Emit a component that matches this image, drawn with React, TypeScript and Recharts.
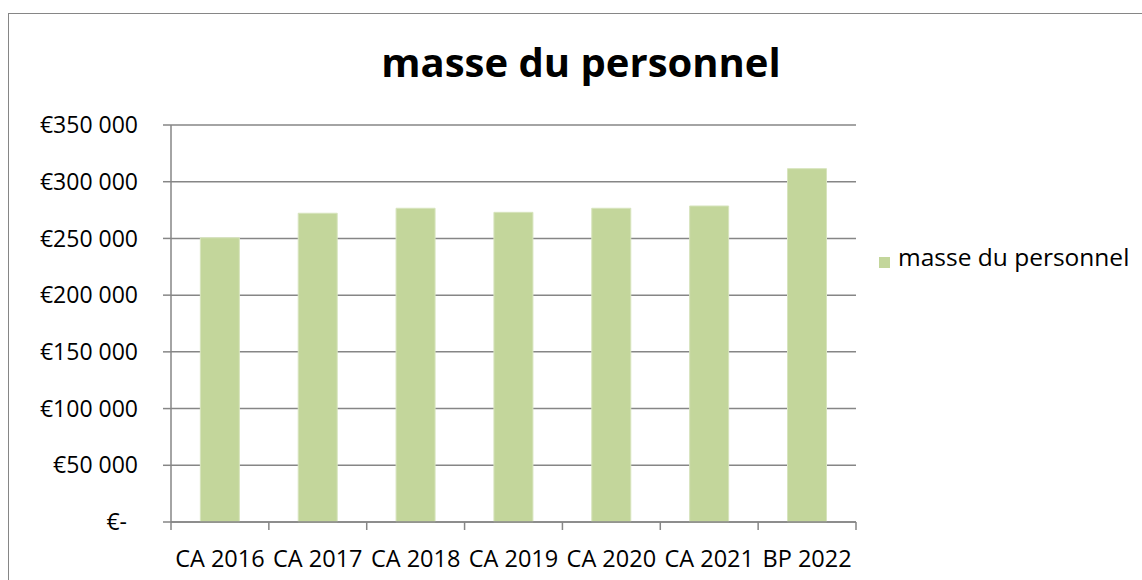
import React from "react";
import { BarChart, Bar, XAxis, YAxis, CartesianGrid, Legend } from "recharts";

const categories = ["CA 2016", "CA 2017", "CA 2018", "CA 2019", "CA 2020", "CA 2021", "BP 2022"];
const masseValues = [250600, 272200, 276600, 273000, 276600, 278600, 311500];
const yTicks = [0, 50000, 100000, 150000, 200000, 250000, 300000, 350000];
const seriesName = "masse du personnel";
const chartTitle = "masse du personnel";

const data = categories.map((c, i) => ({ name: c, value: masseValues[i] }));

const FONT = "'Open Sans', Calibri, sans-serif";
const GRID = "#868686";

const fmt = (v: number) =>
  v === 0 ? "€-" : "€" + String(v).replace(/\B(?=(\d{3})+(?!\d))/g, " ");

const YTick = (props: any) => {
  const { x, y, payload } = props;
  const isZero = payload.value === 0;
  return (
    <text
      x={x - (isZero ? 11 : 0)}
      y={y}
      dy="0.355em"
      textAnchor="end"
      fontSize={23}
      fontFamily={FONT}
      fill="#000"
    >
      {fmt(payload.value)}
    </text>
  );
};

const XTick = (props: any) => {
  const { x, y, payload, index } = props;
  const off = payload && payload.offset ? payload.offset : 49;
  const axisY = y - 28;
  const isLast = index === categories.length - 1;
  return (
    <g>
      <line x1={x - off} x2={x - off} y1={axisY} y2={axisY + 8} stroke={GRID} strokeWidth={1.5} />
      {isLast && (
        <line x1={x + off} x2={x + off} y1={axisY} y2={axisY + 8} stroke={GRID} strokeWidth={1.5} />
      )}
      <text x={x} y={y} dy="0.71em" textAnchor="middle" fontSize={23.5} fontFamily={FONT} fill="#000">
        {payload.value}
      </text>
    </g>
  );
};

const legendFormatter = (value: string) => (
  <span style={{ color: "#000", fontSize: 24.5, fontFamily: FONT, marginLeft: 4 }}>{value}</span>
);

export default function App() {
  return (
    <div
      style={{
        position: "fixed",
        left: 0,
        top: 0,
        width: 1142,
        height: 580,
        overflow: "hidden",
        background: "#fff",
      }}
    >
      <div
        style={{
          position: "absolute",
          left: 8,
          top: 13,
          width: 1160,
          height: 600,
          border: `1.5px solid ${GRID}`,
          boxSizing: "border-box",
        }}
      />
      <svg
        width={1142}
        height={100}
        style={{ position: "absolute", left: 0, top: 0 }}
      >
        <text
          x={581}
          y={77}
          textAnchor="middle"
          fontSize={40}
          fontWeight="bold"
          fontFamily={FONT}
          fill="#000"
        >
          {chartTitle}
        </text>
      </svg>
      <div style={{ position: "absolute", left: 0, top: 0 }}>
        <BarChart
          width={1142}
          height={580}
          data={data}
          margin={{ top: 125, right: 286, bottom: 18, left: 71 }}
          barCategoryGap="30%"
        >
          <CartesianGrid vertical={false} stroke={GRID} strokeWidth={1.5} />
          <XAxis
            dataKey="name"
            height={40}
            axisLine={{ stroke: GRID, strokeWidth: 1.5 }}
            tickLine={false}
            tickSize={8}
            tickMargin={20}
            tick={<XTick />}
            interval={0}
          />
          <YAxis
            width={100}
            domain={[0, 350000]}
            ticks={yTicks}
            interval={0}
            axisLine={{ stroke: GRID, strokeWidth: 1.5 }}
            tickLine={{ stroke: GRID, strokeWidth: 1.5 }}
            tickSize={8}
            tickMargin={25}
            tick={<YTick />}
          />
          <Legend
            layout="vertical"
            align="center"
            verticalAlign="middle"
            iconType="square"
            iconSize={11}
            formatter={legendFormatter}
            wrapperStyle={{ left: 879, top: 240, width: 263 }}
          />
          <Bar
            dataKey="value"
            name={seriesName}
            fill="#C3D69B"
            stroke="#D7E4BD"
            strokeWidth={1}
            isAnimationActive={false}
          />
        </BarChart>
      </div>
    </div>
  );
}
